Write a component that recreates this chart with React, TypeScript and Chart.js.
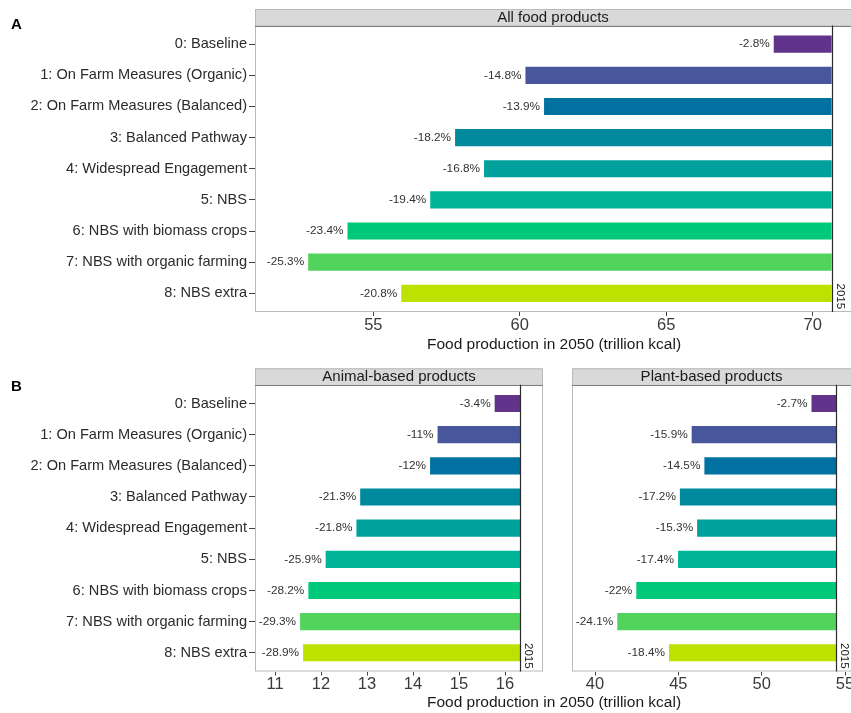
import { useEffect, useRef } from "react";
import { Chart, registerables } from "chart.js";

Chart.register(...registerables);

// Scenario names, top to bottom
const scenarios = [
  "0: Baseline",
  "1: On Farm Measures (Organic)",
  "2: On Farm Measures (Balanced)",
  "3: Balanced Pathway",
  "4: Widespread Engagement",
  "5: NBS",
  "6: NBS with biomass crops",
  "7: NBS with organic farming",
  "8: NBS extra",
];

const barColors = [
  "#62338a",
  "#48579c",
  "#0071a0",
  "#00889d",
  "#00a09d",
  "#00b498",
  "#00c97a",
  "#52d45c",
  "#bde100",
];

// Change in 2050 relative to 2015 (%)
const allFoodChange = [-2.8, -14.8, -13.9, -18.2, -16.8, -19.4, -23.4, -25.3, -20.8];
const animalChange = [-3.4, -11, -12, -21.3, -21.8, -25.9, -28.2, -29.3, -28.9];
const plantChange = [-2.7, -15.9, -14.5, -17.2, -15.3, -17.4, -22, -24.1, -18.4];

// 2015 production (trillion kcal)
const allFood2015 = 70.65;
const animal2015 = 16.33;
const plant2015 = 54.46;

const allFoodTicks = [55, 60, 65, 70];
const animalTicks = [11, 12, 13, 14, 15, 16];
const plantTicks = [40, 45, 50, 55];

const axisTitle = "Food production in 2050 (trillion kcal)";
const refYear = "2015";

const FONT = '"Liberation Sans", Arial, Helvetica, sans-serif';
const PAGE_W = 851;

type PanelSpec = {
  strip: string;
  base: number;
  change: number[];
  ticks: number[];
  xMin: number;
  xMax: number;
  showCategories: boolean;
  top: number;
  height: number;
  areaLeft: number;
  areaRight: number;
  areaTop: number;
  areaBottom: number;
  letter?: { text: string; x: number; y: number };
  title?: { x: number; y: number };
};

function makeDecoPlugin(spec: PanelSpec) {
  return {
    id: "panelDeco",
    afterDraw(chart: any) {
      const { ctx, chartArea: a, scales } = chart;
      const xs = scales.x;
      const ys = scales.y;
      // panels that run to the page edge keep their right border off-canvas
      const rightEdge = a.right >= PAGE_W - 0.5 ? a.right + 2 : a.right;
      ctx.save();

      // panel frame
      ctx.strokeStyle = "#b9b9b9";
      ctx.lineWidth = 1;
      ctx.strokeRect(a.left + 0.5, a.top + 0.5, rightEdge - a.left - 1, a.bottom - a.top - 1);

      // facet strip
      const sh = 16.5;
      ctx.fillStyle = "#d9d9d9";
      ctx.fillRect(a.left, a.top - sh, a.right - a.left, sh);
      ctx.strokeStyle = "#b9b9b9";
      ctx.strokeRect(a.left + 0.5, a.top - sh + 0.5, rightEdge - a.left - 1, sh);
      ctx.strokeStyle = "#7d7d7d";
      ctx.beginPath();
      ctx.moveTo(a.left, Math.round(a.top) + 0.5);
      ctx.lineTo(a.right, Math.round(a.top) + 0.5);
      ctx.stroke();
      ctx.fillStyle = "#1a1a1a";
      ctx.font = `15px ${FONT}`;
      ctx.textAlign = "center";
      ctx.textBaseline = "middle";
      ctx.fillText(spec.strip, (a.left + a.right) / 2, a.top - sh / 2 + 0.5);

      // 2015 reference line
      const bx = Math.round(xs.getPixelForValue(spec.base)) + 0.5;
      ctx.strokeStyle = "#2b2b2b";
      ctx.lineWidth = 1.2;
      ctx.beginPath();
      ctx.moveTo(bx, a.top);
      ctx.lineTo(bx, a.bottom);
      ctx.stroke();

      ctx.save();
      ctx.translate(bx + 7.5, ys.getPixelForValue(spec.change.length - 1) + 3);
      ctx.rotate(Math.PI / 2);
      ctx.fillStyle = "#1a1a1a";
      ctx.font = `11.5px ${FONT}`;
      ctx.textAlign = "center";
      ctx.textBaseline = "middle";
      ctx.fillText(refYear, 0, 0);
      ctx.restore();

      // percentage labels
      ctx.fillStyle = "#333333";
      ctx.font = `11.8px ${FONT}`;
      ctx.textAlign = "right";
      ctx.textBaseline = "middle";
      spec.change.forEach((p, i) => {
        const end = spec.base * (1 + p / 100);
        ctx.fillText(`${p}%`, xs.getPixelForValue(end) - 4, ys.getPixelForValue(i));
      });

      if (spec.letter) {
        ctx.fillStyle = "#000";
        ctx.font = `bold 15px ${FONT}`;
        ctx.textAlign = "left";
        ctx.fillText(spec.letter.text, spec.letter.x, spec.letter.y);
      }
      if (spec.title) {
        ctx.fillStyle = "#1a1a1a";
        ctx.font = `15.5px ${FONT}`;
        ctx.textAlign = "center";
        ctx.fillText(axisTitle, spec.title.x, spec.title.y);
      }
      ctx.restore();
    },
  };
}

function Panel({ spec }: { spec: PanelSpec }) {
  const ref = useRef<HTMLCanvasElement | null>(null);

  useEffect(() => {
    if (!ref.current) return;
    const n = scenarios.length;
    const chart = new Chart(ref.current, {
      type: "bar",
      data: {
        datasets: [
          {
            data: spec.change.map((p, i) => ({
              y: i,
              x: [spec.base, spec.base * (1 + p / 100)],
            })) as any,
            backgroundColor: barColors,
            borderWidth: 0,
            categoryPercentage: 1,
            barPercentage: 0.55,
          },
        ],
      },
      options: {
        indexAxis: "y",
        animation: false,
        responsive: false,
        events: [],
        layout: {
          padding: {
            left: spec.showCategories ? 0 : spec.areaLeft,
            right: PAGE_W - spec.areaRight,
            top: spec.areaTop,
            bottom: 0,
          },
        },
        plugins: {
          legend: { display: false },
          tooltip: { enabled: false },
        },
        scales: {
          y: {
            type: "linear",
            display: spec.showCategories,
            reverse: true,
            min: -0.6,
            max: n - 1 + 0.6,
            offset: false,
            afterFit: (s: any) => {
              s.width = spec.showCategories ? spec.areaLeft : 0;
              s.paddingTop = 0;
              s.paddingBottom = 0;
            },
            afterBuildTicks: (s: any) => {
              s.ticks = scenarios.map((_, i) => ({ value: i }));
            },
            ticks: {
              autoSkip: false,
              padding: 2,
              color: "#2b2b2b",
              font: { family: FONT, size: 14.6 },
              callback: (v: any) => scenarios[v as number],
            },
            grid: {
              drawOnChartArea: false,
              drawTicks: true,
              tickLength: 6,
              tickColor: "#444",
              offset: false,
            },
            border: { display: false },
          },
          x: {
            type: "linear",
            min: spec.xMin,
            max: spec.xMax,
            afterFit: (s: any) => {
              s.height = spec.height - spec.areaBottom;
              s.paddingLeft = 0;
              s.paddingRight = 0;
            },
            afterBuildTicks: (s: any) => {
              s.ticks = spec.ticks.map((v) => ({ value: v }));
            },
            ticks: {
              autoSkip: false,
              maxRotation: 0,
              padding: 1,
              color: "#3a3a3a",
              font: { family: FONT, size: 16.5, lineHeight: 1 },
            },
            grid: {
              drawOnChartArea: false,
              drawTicks: true,
              tickLength: 4,
              tickColor: "#444",
            },
            border: { display: false },
          },
        },
      },
      plugins: [makeDecoPlugin(spec)],
    } as any);
    return () => chart.destroy();
  }, [spec]);

  return (
    <canvas
      ref={ref}
      width={PAGE_W}
      height={spec.height}
      style={{
        position: "absolute",
        left: 0,
        top: spec.top,
        width: PAGE_W,
        height: spec.height,
      }}
    />
  );
}

const panelA: PanelSpec = {
  strip: "All food products",
  base: allFood2015,
  change: allFoodChange,
  ticks: allFoodTicks,
  xMin: 50.96,
  xMax: 71.31,
  showCategories: true,
  top: 0,
  height: 360,
  areaLeft: 255,
  areaRight: 851,
  areaTop: 25.5,
  areaBottom: 312,
  letter: { text: "A", x: 11, y: 25 },
  title: { x: 554, y: 345 },
};

const panelAnimal: PanelSpec = {
  strip: "Animal-based products",
  base: animal2015,
  change: animalChange,
  ticks: animalTicks,
  xMin: 10.565,
  xMax: 16.826,
  showCategories: true,
  top: 360,
  height: 353,
  areaLeft: 255,
  areaRight: 543,
  areaTop: 24.8,
  areaBottom: 311.5,
  letter: { text: "B", x: 11, y: 27 },
  title: { x: 554, y: 343 },
};

const panelPlant: PanelSpec = {
  strip: "Plant-based products",
  base: plant2015,
  change: plantChange,
  ticks: plantTicks,
  xMin: 38.62,
  xMax: 55.36,
  showCategories: false,
  top: 360,
  height: 353,
  areaLeft: 572,
  areaRight: 851,
  areaTop: 24.8,
  areaBottom: 311.5,
};

export default function App() {
  return (
    <div
      style={{
        position: "absolute",
        left: 0,
        top: 0,
        width: PAGE_W,
        height: 713,
        background: "#fff",
        overflow: "hidden",
      }}
    >
      <Panel spec={panelA} />
      <Panel spec={panelAnimal} />
      <Panel spec={panelPlant} />
    </div>
  );
}
